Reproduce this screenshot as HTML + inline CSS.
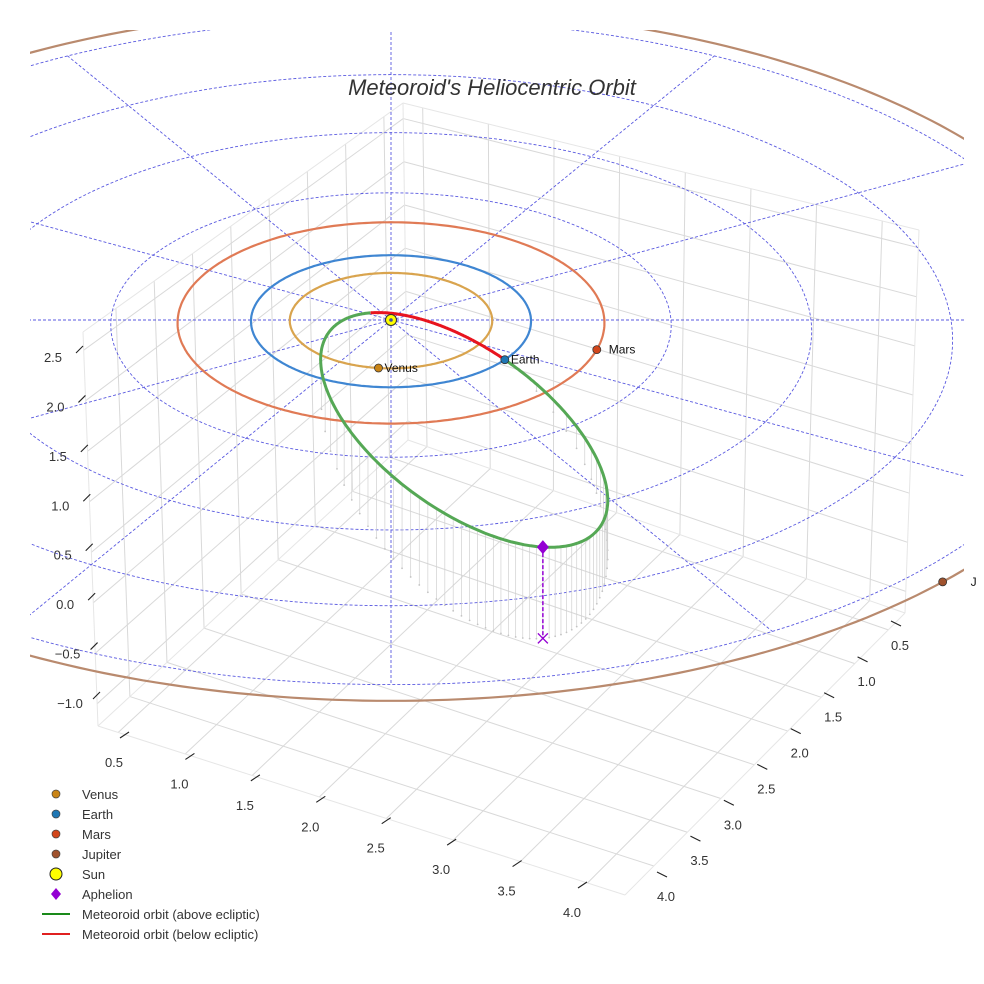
<!DOCTYPE html>
<html><head><meta charset="utf-8"><style>
html,body{margin:0;padding:0;background:#fff}
svg{display:block;font-family:"Liberation Sans",sans-serif}
</style></head><body>
<svg id="chart" width="984" height="984" viewBox="0 0 984 984" xmlns="http://www.w3.org/2000/svg">
<defs>
<clipPath id="plotclip"><rect x="30" y="30" width="934" height="930"/></clipPath>
<clipPath id="labelclip"><rect x="0" y="0" width="976" height="984"/></clipPath>
</defs>
<rect width="984" height="984" fill="#fff"/>
<g id="box"></g>
<g id="plot" clip-path="url(#plotclip)"></g>
<g id="marks"></g>
<g id="axes"></g>
<text x="492" y="95" text-anchor="middle" font-size="22" font-style="italic" fill="#333">Meteoroid's Heliocentric Orbit</text>
<g id="legend"></g>
</svg>
<script>
// ---- data ----
const planetNames = ["Venus","Earth","Mars","Jupiter"];
const planetRadii = [0.723, 1.0, 1.524, 5.2];
const planetAnglesDeg = [67, 6.5, 347, 15.2];
const planetOrbitColors = ["#d9a44e","#3f86d2","#e07a55","#b98a6e"];
const planetMarkerColors = ["#c98416","#1f77b4","#d2461b","#a0522d"];
const eclipticRadii = [2, 3, 4, 5];
const spokeAnglesDeg = [0,30,60,90,120,150,180,210,240,270,300,330];
const aphelionVec = [3.07, 3.33, 0.95];
const nodeAngleDeg = [6.5];
const xTicks = [0.5,1.0,1.5,2.0,2.5,3.0,3.5,4.0];
const yTicks = [0.5,1.0,1.5,2.0,2.5,3.0,3.5,4.0];
const zTicks = [-1.0,-0.5,0.0,0.5,1.0,1.5,2.0,2.5];
const legendLabels = ["Venus","Earth","Mars","Jupiter","Sun","Aphelion","Meteoroid orbit (above ecliptic)","Meteoroid orbit (below ecliptic)"];

const NS="http://www.w3.org/2000/svg";
function mk(tag, attrs, parent){const e=document.createElementNS(NS,tag);for(const k in attrs)e.setAttribute(k,attrs[k]);parent.appendChild(e);return e;}
// ---- projections ----
const C30=Math.cos(Math.PI/6), S30=Math.sin(Math.PI/6);
function proj(x,y,z){const sx=140*(x*C30-y*S30);const d=x*S30+y*C30;const sy=66*d-88*z;const k=1/(1-0.019*d);return [391+k*sx,320+k*sy];}
const XR=[0.35,4.28], YR=[0.25,4.43], ZR=[-1.22,2.68];
const FD=[408,440],FC=[905,613],FA=[98,726],FB=[625,895];
const TD=[403,103],TC=[919,230],TA=[83,332],TB=[599,459];
function bil(P00,P10,P01,P11,u,v,i){return (1-u)*(1-v)*P00[i]+u*(1-v)*P10[i]+(1-u)*v*P01[i]+u*v*P11[i];}
function boxP(x,y,z){const u=(x-XR[0])/(XR[1]-XR[0]),v=(y-YR[0])/(YR[1]-YR[0]),w=(z-ZR[0])/(ZR[1]-ZR[0]);
 const f=[bil(FD,FC,FA,FB,u,v,0),bil(FD,FC,FA,FB,u,v,1)],t=[bil(TD,TC,TA,TB,u,v,0),bil(TD,TC,TA,TB,u,v,1)];
 return [f[0]+w*(t[0]-f[0]),f[1]+w*(t[1]-f[1])];}
function lerp2(a,b,t){return [a[0]+(b[0]-a[0])*t,a[1]+(b[1]-a[1])*t];}
function xLab(v){return lerp2([114,762],[572,912],(v-0.5)/3.5);}
function yLab(v){return lerp2([900,645],[666,896],(v-0.5)/3.5);}
function zLab(v){return lerp2([53,357],[70,703],(2.5-v)/3.5);}
function pts(arr){return arr.map(p=>p[0].toFixed(1)+","+p[1].toFixed(1)).join(" ");}

// ---- box panes & grid ----
const box=document.getElementById('box');
const gridC="#d9d9d9";
function bl(a,b,name,col,w){const l=mk('line',{x1:a[0],y1:a[1],x2:b[0],y2:b[1],stroke:col||gridC,'stroke-width':w||1},box);
 
 }
xTicks.forEach(v=>{bl(boxP(v,YR[0],ZR[0]),boxP(v,YR[1],ZR[0]),'floor-gridline-x');bl(boxP(v,YR[0],ZR[0]),boxP(v,YR[0],ZR[1]),'back-pane-gridline-x');});
yTicks.forEach(v=>{bl(boxP(XR[0],v,ZR[0]),boxP(XR[1],v,ZR[0]),'floor-gridline-y');bl(boxP(XR[0],v,ZR[0]),boxP(XR[0],v,ZR[1]),'side-pane-gridline-y');});
zTicks.forEach(v=>{bl(boxP(XR[0],YR[0],v),boxP(XR[0],YR[1],v),'side-pane-gridline-z');bl(boxP(XR[0],YR[0],v),boxP(XR[1],YR[0],v),'back-pane-gridline-z');});
[[boxP(XR[0],YR[0],ZR[0]),boxP(XR[0],YR[0],ZR[1])],[boxP(XR[0],YR[1],ZR[0]),boxP(XR[0],YR[1],ZR[1])],[boxP(XR[1],YR[0],ZR[0]),boxP(XR[1],YR[0],ZR[1])],
 [boxP(XR[0],YR[0],ZR[1]),boxP(XR[0],YR[1],ZR[1])],[boxP(XR[0],YR[0],ZR[1]),boxP(XR[1],YR[0],ZR[1])],
 [boxP(XR[0],YR[1],ZR[0]),boxP(XR[1],YR[1],ZR[0])],[boxP(XR[1],YR[0],ZR[0]),boxP(XR[1],YR[1],ZR[0])],
 [boxP(XR[0],YR[0],ZR[0]),boxP(XR[1],YR[0],ZR[0])],[boxP(XR[0],YR[0],ZR[0]),boxP(XR[0],YR[1],ZR[0])]].forEach(e=>bl(e[0],e[1],'box-edge','#e6e6e6',1));

// ---- ticks ----
const axes=document.getElementById('axes');
function tk(p,d1,d2,label,name){const l=mk('line',{x1:p[0]+d1[0],y1:p[1]+d1[1],x2:p[0]+d2[0],y2:p[1]+d2[1],stroke:'#222','stroke-width':1.1},axes);
 
 
 const t=mk('text',{x:p[0],y:p[1]+5,'text-anchor':'middle','font-size':13,fill:'#333'},axes);t.textContent=label;
 
 }
xTicks.forEach(v=>tk(xLab(v),[6,-24],[15,-30],v.toFixed(1),'x-axis'));
yTicks.forEach(v=>tk(yLab(v),[-9,-24],[1,-19],v.toFixed(1),'y-axis'));
zTicks.forEach(v=>tk(zLab(v),[23,-4],[30,-11],v.toFixed(1).replace('-','\u2212'),'z-axis'));

// ---- plot area ----
const plot=document.getElementById('plot');
function circlePts(r,n){const a=[];for(let i=0;i<=n;i++){const t=i/n*2*Math.PI;a.push(proj(r*Math.cos(t),r*Math.sin(t),0));}return a;}
eclipticRadii.forEach(r=>{const p=mk('polyline',{points:pts(circlePts(r,240)),fill:'none',stroke:'#5a5ae0','stroke-width':0.9,'stroke-dasharray':'3,2'},plot);
 
 });
const spokeLen = eclipticRadii[eclipticRadii.length-1];
spokeAnglesDeg.forEach(a=>{const t=a*Math.PI/180;const A=proj(0,0,0),B=proj(spokeLen*Math.cos(t),spokeLen*Math.sin(t),0);
 const l=mk('line',{x1:A[0],y1:A[1],x2:B[0],y2:B[1],stroke:'#5a5ae0','stroke-width':0.9,'stroke-dasharray':'3,2'},plot);
 
 });

// meteoroid orbit
const Av=aphelionVec, Qa=Math.hypot(Av[0],Av[1],Av[2]);
const Pd=[-Av[0]/Qa,-Av[1]/Qa,-Av[2]/Qa];
const na=nodeAngleDeg[0]*Math.PI/180, nv=[Math.cos(na),Math.sin(na),0];
const cosNu=nv[0]*Pd[0]+nv[1]*Pd[1]+nv[2]*Pd[2], nuE=Math.acos(cosNu), sinNu=Math.sin(nuE);
const Qd=[(nv[0]-cosNu*Pd[0])/sinNu,(nv[1]-cosNu*Pd[1])/sinNu,(nv[2]-cosNu*Pd[2])/sinNu];
const ecc=(Qa-1)/(Qa+cosNu), pp=Qa*(1-ecc);
function orbitPt(nu){const r=pp/(1+ecc*Math.cos(nu));return [r*(Math.cos(nu)*Pd[0]+Math.sin(nu)*Qd[0]),r*(Math.cos(nu)*Pd[1]+Math.sin(nu)*Qd[1]),r*(Math.cos(nu)*Pd[2]+Math.sin(nu)*Qd[2])];}
for(let i=0;i<64;i++){const M=i/64*2*Math.PI;let E=M;for(let j=0;j<50;j++)E=E-(E-ecc*Math.sin(E)-M)/(1-ecc*Math.cos(E));
 const nu=2*Math.atan2(Math.sqrt(1+ecc)*Math.sin(E/2),Math.sqrt(1-ecc)*Math.cos(E/2));const P=orbitPt(nu);if(P[2]<=0.02)continue;
 const a=proj(P[0],P[1],P[2]),b=proj(P[0],P[1],0);
 const l=mk('line',{x1:a[0],y1:a[1],x2:b[0],y2:b[1],stroke:'#d0d0d0','stroke-width':0.7},plot);
 
 
 const d=mk('circle',{cx:b[0],cy:b[1],r:0.9,fill:'#c4c4c4'},plot);
 
 }

planetRadii.forEach((r,i)=>{const p=mk('polyline',{points:pts(circlePts(r,360)),fill:'none',stroke:planetOrbitColors[i],'stroke-width':2.2},plot);
 
 });

const above=[],below=[];
for(let i=0;i<=720;i++){const nu=-Math.PI+i/720*2*Math.PI;const P=orbitPt(nu);const s=proj(P[0],P[1],P[2]);
 if(P[2]>=0)above.push([nu,s]);else below.push([nu,s]);}
function segs(list){const out=[];let cur=[];let prev=null;list.forEach(([nu,s])=>{if(prev!==null&&nu-prev>0.05){out.push(cur);cur=[];}cur.push(s);prev=nu;});out.push(cur);return out;}
const belowSegs=segs(below);
const ab=above.map(([nu,s])=>[nu<0?nu+2*Math.PI:nu,s]).sort((a,b)=>a[0]-b[0]);
segs(ab).forEach(sg=>{const p=mk('polyline',{points:pts(sg),fill:'none',stroke:'#55a855','stroke-width':3,'stroke-linejoin':'round'},plot);
 
 });
belowSegs.forEach(sg=>{const p=mk('polyline',{points:pts(sg),fill:'none',stroke:'#e8141e','stroke-width':3,'stroke-linejoin':'round'},plot);
 
 });

// ---- markers ----
const marks=document.getElementById('marks');
const aph=proj(Av[0],Av[1],Av[2]), aph0=proj(Av[0],Av[1],0);
const al=mk('line',{x1:aph[0],y1:aph[1],x2:aph0[0],y2:aph0[1],stroke:'#9400d3','stroke-width':1.5,'stroke-dasharray':'4,2'},marks);


const ax=mk('path',{d:`M${aph0[0]-5},${aph0[1]-5}L${aph0[0]+5},${aph0[1]+5}M${aph0[0]-5},${aph0[1]+5}L${aph0[0]+5},${aph0[1]-5}`,stroke:'#9400d3','stroke-width':1.3},marks);


const ad=mk('path',{d:`M${aph[0]},${aph[1]-7}L${aph[0]+6},${aph[1]}L${aph[0]},${aph[1]+7}L${aph[0]-6},${aph[1]}Z`,fill:'#9400d3'},marks);


const sun=proj(0,0,0);
const sc=mk('circle',{cx:sun[0],cy:sun[1],r:5.5,fill:'#ffff00',stroke:'#333','stroke-width':1},marks);


const sd=mk('circle',{cx:sun[0],cy:sun[1],r:1.8,fill:'#4050a0'},marks);


const labG=mk('g',{'clip-path':'url(#labelclip)'},marks);
planetRadii.forEach((r,i)=>{const t=planetAnglesDeg[i]*Math.PI/180;const p=proj(r*Math.cos(t),r*Math.sin(t),0);
 const c=mk('circle',{cx:p[0],cy:p[1],r:4,fill:planetMarkerColors[i],stroke:'#333','stroke-width':0.8},marks);
 
 
 const off=(i===3)?28:(i===2?12:6);
 const tx=mk('text',{x:p[0]+off,y:p[1]+4,'font-size':12,fill:'#111'},labG);tx.textContent=planetNames[i];
 
 });

// ---- legend ----
const lg=document.getElementById('legend');
legendLabels.forEach((lab,i)=>{const y=794+i*20;const g=mk('g',{},lg);
 
 
 if(i<4)mk('circle',{cx:56,cy:y,r:4,fill:planetMarkerColors[i],stroke:'#444','stroke-width':0.7},g);
 else if(i===4)mk('circle',{cx:56,cy:y,r:6,fill:'#ffff00',stroke:'#222','stroke-width':1},g);
 else if(i===5)mk('path',{d:`M56,${y-6}L61,${y}L56,${y+6}L51,${y}Z`,fill:'#9400d3'},g);
 else mk('line',{x1:42,y1:y,x2:70,y2:y,stroke:i===6?'#1a8a1a':'#e02020','stroke-width':2},g);
 const t=mk('text',{x:82,y:y+5,'font-size':13,fill:'#333'},g);t.textContent=lab;});
</script>
</body></html>
